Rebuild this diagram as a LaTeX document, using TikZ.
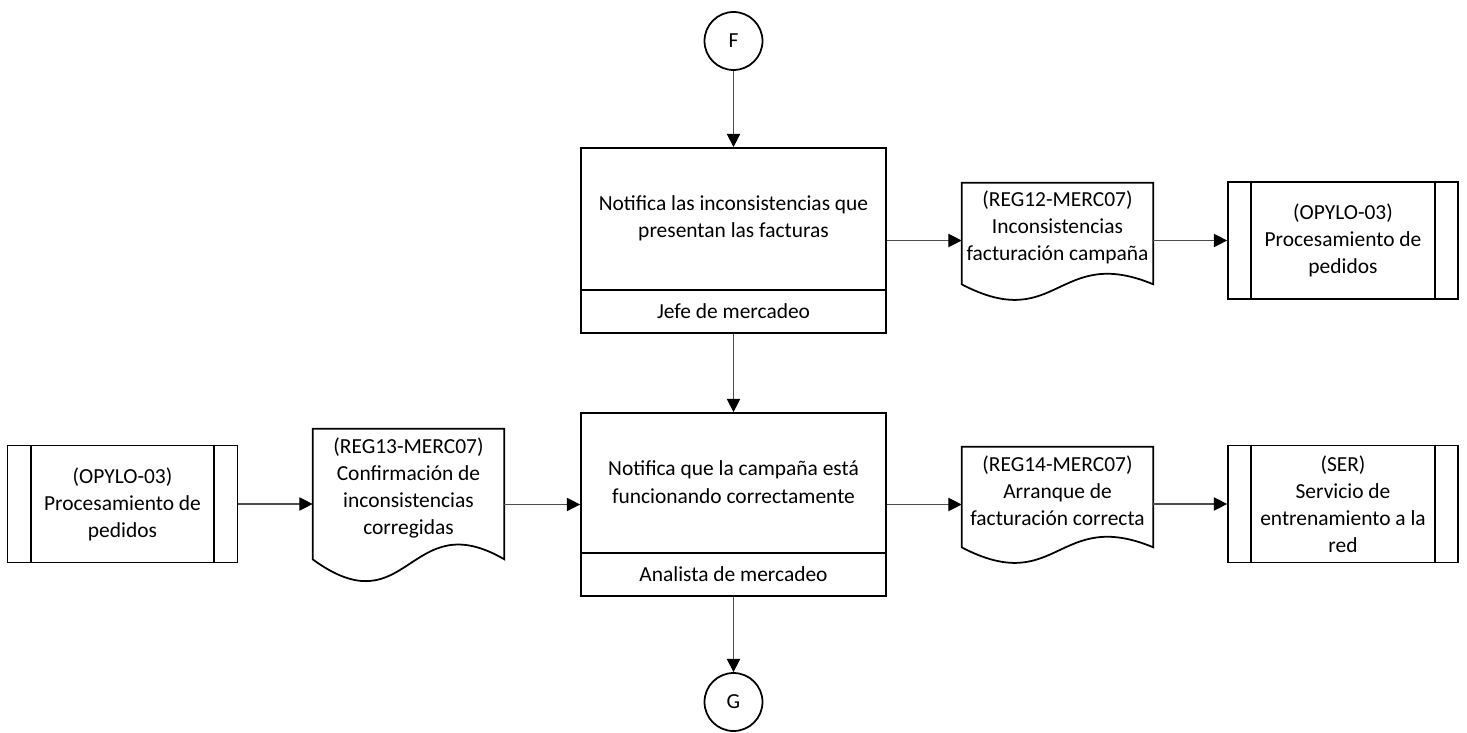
\documentclass[tikz,border=0pt]{standalone}
\usepackage{fontspec}
\setmainfont{Carlito}
\usetikzlibrary{arrows.meta,calc}
\tikzset{
  shp/.style={draw=black,line width=1pt},
  taskbox/.style={shp,minimum width=6.1cm},
  role/.style={shp,minimum width=6.1cm,minimum height=0.86cm,inner sep=0pt},
  conn/.style={draw=black!70,line width=0.6pt,-{Triangle[length=7.6pt,width=7.6pt,black]}},
  docbox/.style={minimum width=3.82cm,inner sep=0pt},
  subproc/.style={shp,minimum width=4.6cm,minimum height=2.34cm,align=center,inner sep=0pt},
  conector/.style={shp,circle,minimum size=1.16cm,inner sep=0pt},
}
\begin{document}
\begin{tikzpicture}[x=0.02cm,y=-0.02cm,every node/.style={font=\fontsize{12.2}{15.4}\selectfont}]
  \useasboundingbox (0,0) rectangle (1467,733);
  % Connectors
  \node[conector] (F) at (733.5,41) {F};
  \node[conector] (G) at (733.5,702) {G};
  % First activity
  \node[taskbox,minimum height=3.7cm] (b1) at (733.5,240.5) {};
  \node[role,anchor=south] (r1) at (b1.south) {Jefe de mercadeo};
  \node[align=center] (t1) at ($(b1.north)!0.5!(r1.north)$) {Notifica las inconsistencias que\\presentan las facturas};
  % Second activity
  \node[taskbox,minimum height=3.66cm] (b2) at (733.5,504.5) {};
  \node[role,anchor=south] (r2) at (b2.south) {Analista de mercadeo};
  \node[align=center] (t2) at ($(b2.north)!0.5!(r2.north)$) {Notifica que la campaña está\\funcionando correctamente};
  % Records
  \node[docbox,minimum height=2.02cm] (d1) at (1057.5,233.5) {};
  \node[docbox,minimum height=2.6cm] (d2) at (408.5,494) {};
  \node[docbox,minimum height=2.0cm] (d3) at (1057.5,497) {};
  \foreach \n/\a in {d1/1,d2/1.4,d3/1}{
    \draw[shp] (\n.north west) -- (\n.south west)
      .. controls ($(\n.south)+(0,50*\a)$) and ($(\n.south)+(0,-40*\a)$) .. (\n.south east)
      -- (\n.north east) -- cycle;
  }
  \node[align=center] (d1t) at ($(d1)+(0,-6)$) {(REG12-MERC07)\\Inconsistencias\\facturación campaña};
  \node[align=center] (d2t) at ($(d2)+(0,-6)$) {(REG13-MERC07)\\Confirmación de\\inconsistencias\\corregidas};
  \node[align=center] (d3t) at ($(d3)+(0,-6)$) {(REG14-MERC07)\\Arranque de\\facturación correcta};
  % Linked processes
  \node[subproc] (p1) at (1343,240.5) {(OPYLO-03)\\Procesamiento de\\pedidos};
  \node[subproc] (p2) at (122.5,504) {(OPYLO-03)\\Procesamiento de\\pedidos};
  \node[subproc] (p3) at (1343,504) {(SER)\\Servicio de\\entrenamiento a la\\red};
  \foreach \n in {p1,p2,p3}{
    \draw[shp] ($(\n.north west)+(24,0)$) -- ($(\n.south west)+(24,0)$);
    \draw[shp] ($(\n.north east)+(-24,0)$) -- ($(\n.south east)+(-24,0)$);
  }
  % Flow
  \draw[conn] (F) -- (b1);
  \draw[conn] (r1) -- (b2);
  \draw[conn] (r2) -- (G);
  \draw[conn] (b1.east) -- (b1.east -| d1.west);
  \draw[conn] (p1.west -| d1.east) -- (p1.west);
  \draw[conn] (p2.east) -- (p2.east -| d2.west);
  \draw[conn] (b2.west -| d2.east) -- (b2.west);
  \draw[conn] (b2.east) -- (b2.east -| d3.west);
  \draw[conn] (p3.west -| d3.east) -- (p3.west);
\end{tikzpicture}
\end{document}
